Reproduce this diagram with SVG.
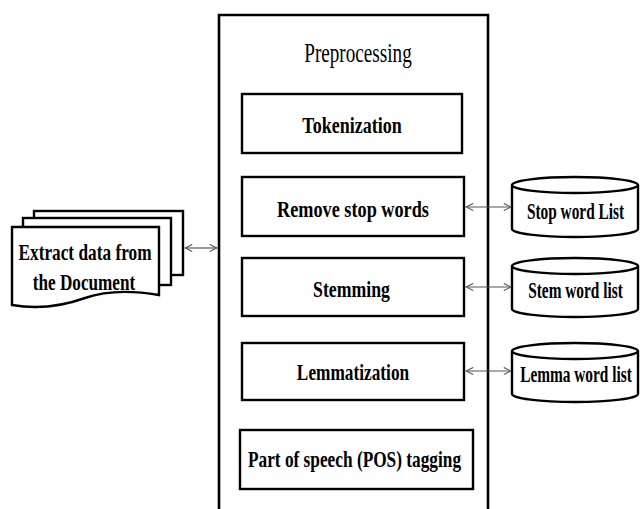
<svg xmlns="http://www.w3.org/2000/svg" width="641" height="509" viewBox="0 0 641 509">
<defs>
<style>
.box{fill:#fff;stroke:#000;stroke-width:2.4}
.doc{fill:#fff;stroke:#000;stroke-width:2.4}
.lbl{font-family:"Liberation Serif","Times New Roman",serif;font-weight:bold;font-size:24px;fill:#000;text-anchor:middle}
.title{font-family:"Liberation Serif","Times New Roman",serif;font-size:27px;fill:#000;text-anchor:middle}
.conn{stroke:#555;stroke-width:1.2;fill:none}
</style>
<marker id="ah" viewBox="0 0 10 10" refX="9" refY="5" markerWidth="9" markerHeight="9" orient="auto-start-reverse" markerUnits="userSpaceOnUse">
<path d="M1,1 L9,5 L1,9" fill="none" stroke="#555" stroke-width="1.2"/>
</marker>
</defs>
<rect width="641" height="509" fill="#fff"/>

<g id="preprocessing">
<path d="M219,509 V15 H488 V509" fill="none" stroke="#000" stroke-width="2.6"/>
<text class="title" transform="translate(358,62) scale(0.71,1)">Preprocessing</text>
</g>

<g id="tokenization">
<rect class="box" x="242" y="94" width="220" height="59"/>
<text class="lbl" transform="translate(352,132.5) scale(0.75,1)">Tokenization</text>
</g>
<g id="remove-stop-words">
<rect class="box" x="242" y="177" width="222" height="59"/>
<text class="lbl" transform="translate(353,217) scale(0.76,1)">Remove stop words</text>
</g>
<g id="stemming">
<rect class="box" x="242" y="258" width="222" height="58"/>
<text class="lbl" transform="translate(351.5,297) scale(0.74,1)">Stemming</text>
</g>
<g id="lemmatization">
<rect class="box" x="242" y="343" width="222" height="57"/>
<text class="lbl" transform="translate(353,380) scale(0.72,1)">Lemmatization</text>
</g>
<g id="pos-tagging">
<rect class="box" x="240" y="430" width="233" height="59"/>
<text class="lbl" transform="translate(354.5,467) scale(0.72,1)">Part of speech (POS) tagging</text>
</g>

<g id="stop-word-list">
<path class="box" d="M512,185 V229 A63,8 0 0 0 638,229 V185 A63,8 0 0 0 512,185 A63,8 0 0 0 638,185"/>
<text class="lbl" transform="translate(575.5,219) scale(0.64,1)">Stop word List</text>
</g>
<g id="stem-word-list">
<path class="box" d="M512,266 V309 A63,8 0 0 0 638,309 V266 A63,8 0 0 0 512,266 A63,8 0 0 0 638,266"/>
<text class="lbl" transform="translate(575.5,298) scale(0.64,1)">Stem word list</text>
</g>
<g id="lemma-word-list">
<path class="box" d="M512,351 V394 A63,8 0 0 0 638,394 V351 A63,8 0 0 0 512,351 A63,8 0 0 0 638,351"/>
<text class="lbl" transform="translate(576,382) scale(0.64,1)">Lemma word list</text>
</g>

<g id="document">
<rect class="doc" x="34" y="211" width="149" height="64"/>
<rect class="doc" x="23" y="218" width="148" height="67"/>
<path class="doc" d="M12,227 H159 V295 C130,290 105,291 85,298 C60,307 35,309 12,305 Z"/>
<text class="lbl" font-size="26" transform="translate(85,260) scale(0.72,1)">Extract data from</text>
<text class="lbl" font-size="26" transform="translate(84,290) scale(0.715,1)">the Document</text>
</g>

<g id="connectors">
<line class="conn" x1="185" y1="248" x2="217" y2="248" marker-start="url(#ah)" marker-end="url(#ah)"/>
<line class="conn" x1="466" y1="207" x2="511" y2="207" marker-start="url(#ah)" marker-end="url(#ah)"/>
<line class="conn" x1="466" y1="287" x2="511" y2="287" marker-start="url(#ah)" marker-end="url(#ah)"/>
<line class="conn" x1="466" y1="371" x2="511" y2="371" marker-start="url(#ah)" marker-end="url(#ah)"/>
</g>
</svg>
